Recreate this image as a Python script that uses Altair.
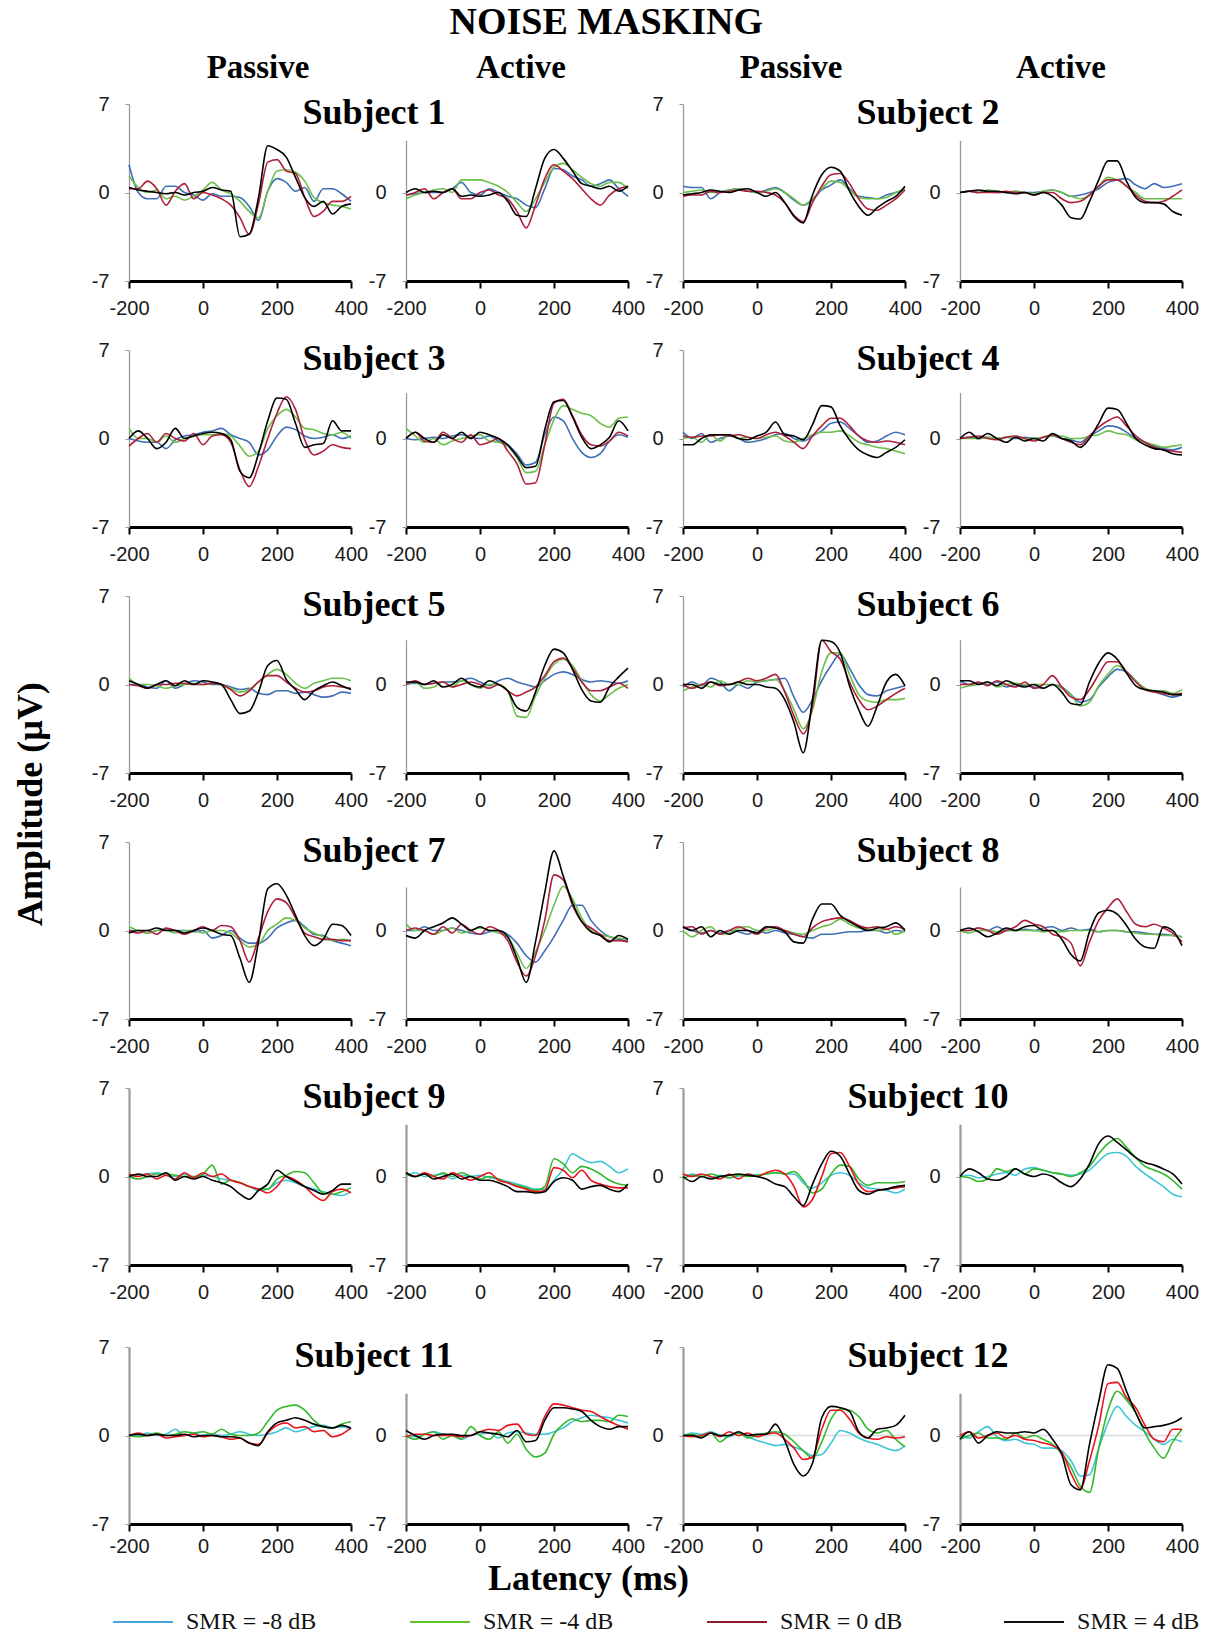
import altair as alt
import pandas as pd

# ---------------- data ----------------
T = list(range(-200, 401, 25))  # latency (ms)
SERIES = ["SMR = -8 dB", "SMR = -4 dB", "SMR = 0 dB", "SMR = 4 dB"]
CONDITIONS = ["Passive", "Active"]
SUBJECTS = ["Subject %d" % i for i in range(1, 13)]

PAL_A = ["#3f6fb6", "#6cc04a", "#b01f3a", "#000000"]   # subjects 1-8
PAL_B = ["#3ec5d6", "#34b82c", "#e8141c", "#000000"]   # subjects 9-12
LEG_COLORS = ["#48a6d9", "#5ec42c", "#8d1d2e", "#111111"]
BOX_BOTTOM = [4.1, 3.6, 3.5, 3.4, 4.1, 3.3]
HEADER_DX = [18, 4, -3, -10]

# each panel: [SMR -8, SMR -4, SMR 0, SMR 4] amplitudes (uV) at T
S1_PASSIVE = [
    [2.2, 0.0, -0.5, -0.5, 0.5, 0.5, 0.0, -0.2, -0.6, -0.1, -0.3, -0.3, -0.4, -1.1, -2.2, 0.1, 1.1, 0.8, 0.1, 0.4, -0.7, 0.3, 0.3, -0.1, -0.7],
    [1.3, 0.4, 0.0, 0.2, -0.5, -0.3, -0.6, -0.3, 0.2, 0.8, 0.2, -0.1, -0.7, -1.5, -2.0, 0.1, 1.7, 1.8, 1.6, 0.9, -0.4, -0.8, -1.0, -1.1, -1.3],
    [0.3, 0.3, 0.9, 0.3, -1.0, 0.1, 0.7, -0.5, 0.0, -0.2, -0.5, -1.0, -2.0, -3.3, -0.9, 2.4, 2.6, 1.7, 1.5, -0.4, -1.9, -1.5, -0.7, -0.7, -0.3],
    [0.4, 0.2, 0.1, 0.0, -0.1, 0.0, -0.2, 0.0, 0.1, 0.4, 0.2, 0.1, -3.5, -3.3, -0.4, 3.7, 3.4, 2.8, 1.2, -0.4, -1.1, -0.7, -1.7, -1.1, -0.9],
]
S1_ACTIVE = [
    [-0.2, -0.1, 0.0, 0.0, 0.0, 0.3, 0.8, 0.0, -0.2, 0.3, 0.0, -0.3, -0.5, -1.0, -1.2, 0.3, 1.9, 1.8, 1.3, 1.0, 0.5, 0.7, 1.0, 0.3, -0.3],
    [-0.5, -0.2, 0.0, 0.2, 0.3, 0.0, 1.0, 1.0, 1.0, 0.8, 0.5, 0.0, -0.8, -1.5, -0.5, 0.8, 2.0, 2.3, 1.8, 1.2, 0.7, 0.5, 0.8, 0.8, 0.3],
    [-0.2, 0.0, 0.3, -0.5, 0.0, 0.3, -0.5, -0.5, 0.0, 0.2, -0.2, -0.5, -1.5, -2.8, -1.0, 1.1, 2.2, 1.7, 1.1, 0.3, -0.5, -1.0, -0.2, 0.3, 0.5],
    [0.0, 0.3, 0.0, 0.1, 0.0, 0.3, -0.3, -0.2, -0.3, -0.2, 0.0, -0.7, -1.8, -1.9, 0.3, 2.7, 3.4, 2.7, 1.7, 0.7, 0.5, 0.3, 0.5, 0.1, 0.5],
]
S2_PASSIVE = [
    [0.5, 0.4, 0.4, -0.5, 0.0, 0.2, 0.3, 0.1, 0.0, 0.2, 0.4, 0.0, -0.6, -1.0, -0.6, 0.2, 0.6, 1.0, 0.3, -0.3, -0.4, -0.5, -0.2, 0.0, 0.2],
    [0.0, 0.1, 0.2, 0.0, 0.0, 0.2, 0.3, 0.1, 0.0, 0.1, 0.3, 0.0, -0.5, -1.0, -0.5, 0.3, 0.9, 0.8, 0.2, -0.4, -0.5, -0.5, -0.4, 0.0, 0.3],
    [-0.3, -0.2, -0.2, 0.1, 0.0, 0.1, 0.2, 0.1, 0.1, 0.0, -0.2, -0.8, -1.8, -2.3, -0.8, 0.5, 1.4, 1.5, 0.7, -0.5, -1.3, -1.4, -1.0, -0.5, 0.2],
    [-0.2, -0.1, 0.0, 0.2, 0.1, 0.0, 0.2, 0.3, 0.0, -0.3, 0.0, -0.8, -1.9, -2.4, -0.2, 1.4, 2.0, 1.7, 0.1, -1.1, -1.8, -1.2, -0.7, -0.3, 0.5],
]
S2_ACTIVE = [
    [0.0, 0.1, 0.0, 0.1, 0.0, 0.0, 0.1, 0.0, 0.0, 0.1, 0.2, 0.0, -0.3, -0.2, 0.0, 0.3, 0.8, 1.0, 1.1, 0.6, 0.3, 0.7, 0.4, 0.5, 0.7],
    [0.0, 0.1, 0.0, 0.2, 0.1, 0.0, 0.1, 0.0, -0.1, 0.1, 0.2, 0.0, -0.3, -0.5, -0.2, 0.5, 1.2, 1.0, 0.5, 0.0, -0.5, -0.5, -0.5, -0.5, -0.5],
    [0.0, 0.1, 0.0, 0.0, 0.0, 0.1, 0.0, 0.0, -0.2, 0.0, 0.0, -0.5, -0.8, -0.7, -0.2, 0.5, 1.0, 1.0, 0.5, -0.2, -0.7, -0.8, -0.7, -0.3, 0.2],
    [0.0, 0.1, 0.2, 0.1, 0.1, 0.0, -0.1, 0.0, -0.2, 0.0, -0.3, -1.0, -2.0, -2.1, -0.7, 1.0, 2.5, 2.5, 0.9, -0.4, -0.8, -0.8, -0.9, -1.5, -1.8],
]
S3_PASSIVE = [
    [0.0, -0.2, -0.3, -0.3, -0.8, -0.1, 0.2, 0.3, 0.5, 0.6, 0.8, 0.3, 0.0, -0.3, -1.3, -0.9, 0.2, 0.9, 0.7, 0.2, 0.0, 0.1, 0.3, 0.0, 0.2],
    [0.8, 0.0, 0.0, -0.3, 0.2, -0.3, 0.0, 0.2, 0.3, 0.3, 0.4, 0.2, -0.6, -1.4, -1.0, 0.8, 1.8, 2.3, 1.7, 0.8, 0.7, 0.4, 0.3, 0.5, 0.0],
    [-0.6, 0.0, 0.4, -0.3, 0.4, 0.0, -0.2, 0.4, -0.5, 0.2, 0.3, -0.3, -2.5, -3.8, -2.2, 0.0, 2.0, 3.3, 2.3, -0.1, -1.3, -1.0, -0.5, -0.7, -0.8],
    [0.0, 0.6, 0.0, -0.8, -0.3, 0.8, 0.0, 0.2, 0.4, 0.5, 0.4, -0.1, -2.6, -3.1, -1.2, 1.4, 3.2, 3.1, 1.2, -0.7, -0.5, -0.4, 1.4, 0.6, 0.6],
]
S3_ACTIVE = [
    [0.0, -0.1, 0.0, 0.1, 0.0, 0.2, 0.3, 0.1, 0.0, 0.2, -0.2, -0.5, -1.2, -2.1, -1.9, 0.3, 1.7, 1.4, 0.0, -1.1, -1.5, -1.2, -0.2, 0.3, 0.1],
    [0.8, 0.2, -0.3, 0.0, -0.5, -0.2, 0.0, 0.2, 0.3, -0.2, -0.3, -0.6, -1.5, -2.7, -2.6, -0.5, 1.5, 2.6, 2.3, 2.0, 1.8, 1.2, 0.9, 1.6, 1.7],
    [0.0, 0.5, -0.2, -0.3, 0.5, 0.0, -0.3, 0.3, -0.5, -0.3, 0.0, -1.0, -2.0, -3.6, -3.5, -0.5, 2.8, 3.1, 1.8, 0.3, -0.5, -0.6, -0.2, 0.5, 0.2],
    [0.0, 0.5, 0.0, -0.3, 0.3, 0.0, 0.5, 0.0, 0.5, 0.3, 0.0, -0.5, -1.4, -2.3, -2.2, 0.7, 2.9, 3.0, 1.7, 0.1, -0.8, -0.5, 0.1, 1.4, 0.6],
]
S4_PASSIVE = [
    [0.5, 0.0, 0.4, -0.3, 0.0, 0.2, 0.0, -0.3, -0.2, 0.0, 0.3, 0.4, 0.0, -0.2, 0.2, 0.6, 1.2, 1.3, 0.8, 0.2, -0.3, -0.2, 0.2, 0.5, 0.3],
    [0.0, 0.1, -0.3, 0.3, -0.2, 0.3, 0.0, 0.1, 0.0, 0.1, 0.2, -0.2, -0.3, 0.0, 0.3, 0.5, 0.5, 0.6, 0.2, -0.3, -0.5, -0.7, -0.8, -1.0, -1.2],
    [0.2, 0.1, 0.2, 0.2, 0.3, 0.2, 0.3, 0.1, 0.0, 0.3, 0.5, 0.2, -0.3, -0.8, 0.2, 1.0, 1.6, 1.6, 1.0, 0.2, -0.2, -0.3, -0.2, -0.3, -0.5],
    [-0.5, -0.5, 0.0, 0.3, 0.3, 0.3, 0.0, -0.1, 0.2, 0.5, 1.3, 0.3, 0.2, -0.1, 1.1, 2.6, 2.5, 1.0, -0.1, -0.9, -1.3, -1.5, -1.1, -0.7, -0.1],
]
S4_ACTIVE = [
    [0.0, 0.1, 0.0, 0.1, 0.0, 0.1, 0.0, 0.1, 0.0, 0.1, 0.2, 0.0, -0.1, -0.3, 0.2, 0.6, 1.0, 0.9, 0.5, 0.0, -0.3, -0.6, -0.8, -0.9, -0.7],
    [0.0, 0.0, 0.0, 0.1, 0.0, 0.1, 0.1, 0.0, 0.0, 0.1, 0.2, 0.2, 0.0, 0.0, 0.2, 0.3, 0.6, 0.4, 0.3, -0.1, -0.3, -0.5, -0.7, -0.6, -0.5],
    [0.0, 0.1, 0.2, 0.0, -0.1, 0.1, 0.2, 0.0, -0.2, 0.1, 0.3, 0.0, -0.3, -0.5, 0.2, 0.9, 1.4, 1.7, 1.0, 0.2, -0.3, -0.7, -0.9, -1.0, -1.1],
    [0.0, 0.5, 0.0, 0.4, 0.0, -0.3, 0.1, -0.2, 0.0, -0.2, 0.4, 0.0, -0.2, -0.7, 0.0, 1.2, 2.4, 2.3, 1.2, 0.0, -0.5, -0.8, -0.9, -1.2, -1.3],
]
S5_PASSIVE = [
    [0.0, 0.0, -0.2, -0.3, 0.3, -0.3, 0.0, 0.3, 0.2, 0.0, 0.0, -0.2, -0.4, -0.3, -0.7, -0.8, -0.5, -0.5, -0.7, -0.6, -0.8, -1.0, -0.9, -0.6, -0.7],
    [0.5, 0.0, 0.0, -0.1, -0.3, -0.1, 0.0, 0.1, 0.0, 0.1, 0.0, -0.3, -0.6, -0.4, 0.2, 0.8, 1.2, 0.8, 0.1, -0.3, 0.1, 0.3, 0.5, 0.5, 0.3],
    [0.0, -0.1, -0.3, 0.0, 0.0, 0.1, 0.1, 0.0, 0.0, 0.1, 0.0, -0.4, -0.9, -0.5, 0.2, 0.7, 0.7, 0.2, -0.3, -0.6, -0.5, -0.2, -0.1, -0.2, -0.3],
    [0.3, 0.0, -0.3, 0.0, 0.3, -0.1, 0.3, 0.0, 0.3, 0.2, 0.0, -1.2, -2.3, -2.1, -0.6, 1.5, 1.9, 0.4, -0.4, -1.2, -0.5, -0.1, 0.2, -0.1, -0.4],
]
S5_ACTIVE = [
    [0.0, 0.1, 0.0, 0.1, 0.2, 0.2, 0.3, 0.5, 0.2, -0.1, 0.3, 0.5, 0.2, 0.0, -0.2, 0.3, 0.8, 1.0, 0.8, 0.4, 0.2, 0.3, 0.2, 0.1, 0.3],
    [0.0, 0.2, -0.3, -0.2, 0.2, -0.2, 0.3, 0.0, -0.3, 0.0, 0.0, -0.5, -2.5, -2.6, -0.9, 0.5, 1.6, 2.0, 1.5, 0.3, -0.8, -1.3, -0.8, -0.3, 0.0],
    [0.0, 0.3, 0.0, 0.1, 0.2, -0.2, 0.0, 0.2, 0.0, -0.3, 0.0, -0.5, -0.9, -0.6, -0.2, 0.7, 1.8, 2.1, 1.3, 0.2, -0.5, -0.5, -0.2, 0.1, -0.3],
    [0.2, 0.2, 0.0, 0.3, -0.2, 0.0, 0.5, 0.0, -0.2, 0.3, 0.0, -0.5, -1.8, -2.1, -0.6, 1.5, 2.8, 2.5, 1.2, -0.4, -1.3, -1.4, -0.2, 0.6, 1.3],
]
S6_PASSIVE = [
    [-0.2, 0.2, -0.1, 0.5, 0.2, -0.5, 0.0, -0.3, 0.2, 0.3, 0.4, 0.5, -1.0, -2.2, -1.2, 0.3, 1.5, 2.4, 1.3, 0.0, -0.8, -0.9, -0.5, -0.3, -0.1],
    [-0.5, -0.2, 0.0, -0.2, 0.3, 0.0, 0.0, 0.3, 0.2, 0.3, 0.4, -0.5, -2.0, -3.5, -2.0, 1.0, 2.5, 2.5, 0.8, -0.8, -1.3, -1.4, -1.2, -1.2, -1.1],
    [0.0, -0.3, 0.0, 0.2, -0.1, 0.0, 0.2, 0.5, 0.3, 0.5, 0.8, -0.6, -2.5, -3.9, -1.7, 3.5, 2.6, 2.0, 0.2, -1.2, -2.0, -1.7, -1.2, -0.7, -0.3],
    [0.0, 0.0, -0.3, 0.2, 0.0, 0.0, 0.2, 0.0, 0.0, -0.2, -0.3, -1.2, -3.0, -5.4, -1.2, 3.5, 3.4, 2.5, -0.1, -2.0, -3.3, -1.7, 0.2, 0.8, -0.1],
]
S6_ACTIVE = [
    [0.3, 0.0, 0.1, 0.0, 0.2, -0.2, 0.0, -0.1, -0.2, -0.3, 0.0, -0.2, -0.8, -1.4, -1.2, -0.2, 0.6, 1.2, 1.0, 0.3, -0.4, -0.6, -0.8, -1.0, -0.8],
    [-0.3, -0.1, 0.0, 0.2, -0.2, 0.0, 0.1, 0.0, 0.0, 0.0, 0.0, -0.3, -0.8, -1.7, -1.4, -0.1, 0.8, 1.5, 1.0, 0.3, -0.3, -0.5, -0.5, -0.7, -0.4],
    [0.0, 0.0, 0.2, -0.1, 0.3, 0.0, -0.2, 0.2, -0.3, 0.0, 0.7, -0.2, -1.0, -1.2, -0.4, 0.8, 1.8, 1.8, 1.0, 0.2, -0.4, -0.6, -0.7, -0.8, -0.7],
    [0.3, 0.3, 0.0, 0.2, -0.1, 0.3, 0.0, -0.2, 0.0, -0.3, 0.0, -0.6, -1.5, -1.6, 0.2, 1.7, 2.5, 2.0, 0.9, -0.1, -0.4, -0.5, -0.6, -0.8, -0.8],
]
S7_PASSIVE = [
    [0.0, 0.0, -0.2, 0.0, 0.1, 0.0, 0.0, -0.1, 0.0, -0.6, -0.4, 0.0, -0.6, -1.0, -1.0, -0.6, 0.2, 0.6, 0.8, 0.3, -0.3, -0.4, -0.8, -1.0, -1.2],
    [0.3, 0.0, -0.2, 0.0, 0.0, -0.2, 0.0, 0.0, -0.2, 0.0, 0.0, -0.2, -0.8, -1.3, -1.1, 0.0, 0.5, 1.0, 0.8, 0.2, -0.2, -0.5, -0.8, -0.7, -0.8],
    [0.0, -0.2, 0.0, -0.3, 0.2, 0.0, -0.3, 0.0, 0.3, 0.0, 0.4, 0.3, -0.8, -2.5, -0.6, 1.5, 2.5, 2.2, 1.0, -0.2, -0.5, -0.7, -0.7, -0.8, -0.8],
    [-0.2, 0.0, 0.0, 0.2, 0.0, 0.0, -0.2, 0.0, 0.2, 0.0, -0.3, -0.4, -2.2, -4.1, -0.9, 3.3, 3.7, 2.8, 1.2, -0.4, -1.2, -0.7, 0.5, 0.4, -0.4],
]
S7_ACTIVE = [
    [0.0, 0.0, 0.3, 0.0, 0.0, 0.2, 0.0, -0.2, -0.3, -0.1, 0.0, -0.3, -1.0, -2.0, -2.5, -1.6, -0.5, 0.8, 2.0, 2.0, 0.8, 0.0, -0.5, -0.7, -0.8],
    [0.5, 0.0, 0.0, -0.3, 0.0, 0.2, -0.2, 0.0, 0.2, 0.0, -0.2, -0.5, -1.8, -3.0, -1.7, 0.0, 2.0, 3.5, 2.5, 1.0, 0.0, -0.3, -0.5, -0.6, -0.7],
    [0.0, 0.2, 0.0, -0.3, 0.3, -0.2, 0.5, 0.0, -0.3, 0.3, 0.0, -0.8, -2.5, -3.6, -2.0, 0.8, 4.4, 4.0, 2.0, 0.7, 0.2, -0.3, -0.8, -0.8, -0.9],
    [-0.4, -0.6, 0.0, 0.3, 0.6, 1.0, 0.5, 0.0, 0.3, 0.0, 0.0, -0.5, -2.2, -4.1, -0.9, 3.0, 6.3, 4.3, 2.2, 0.7, -0.1, -0.4, -0.9, -0.4, -0.7],
]
S8_PASSIVE = [
    [0.3, 0.0, -0.2, 0.0, -0.2, 0.0, -0.1, -0.3, 0.0, -0.2, 0.0, -0.2, -0.3, -0.5, -0.6, -0.3, -0.3, -0.2, -0.1, -0.1, 0.0, 0.0, -0.2, 0.0, -0.1],
    [0.0, -0.5, 0.0, 0.3, -0.3, -0.2, 0.2, 0.3, 0.0, 0.0, 0.2, 0.0, -0.2, -0.3, 0.0, 0.3, 0.5, 0.9, 0.5, 0.2, 0.1, 0.0, 0.1, -0.3, 0.0],
    [0.2, 0.3, -0.3, 0.0, -0.3, 0.0, 0.3, 0.0, -0.3, 0.2, 0.3, 0.0, -0.3, -0.5, 0.2, 0.7, 0.9, 1.0, 0.8, 0.4, 0.2, 0.3, 0.1, 0.3, 0.1],
    [0.3, 0.0, 0.3, -0.5, 0.0, -0.3, 0.0, 0.0, -0.2, 0.3, 0.2, -0.1, -0.9, -1.0, 0.9, 2.1, 2.1, 1.2, 0.7, 0.3, 0.0, 0.2, 0.3, 0.6, 0.0],
]
S8_ACTIVE = [
    [0.0, 0.0, 0.2, 0.0, 0.3, 0.0, 0.0, 0.1, 0.0, 0.2, 0.3, 0.0, 0.2, 0.0, 0.1, -0.1, 0.0, 0.0, -0.1, -0.1, -0.2, -0.3, -0.3, -0.4, -0.5],
    [0.0, -0.2, 0.0, 0.0, -0.1, 0.0, 0.0, 0.0, 0.0, -0.1, 0.0, -0.1, 0.0, 0.0, 0.0, -0.1, 0.0, 0.0, -0.1, -0.2, -0.3, -0.3, -0.4, -0.4, -0.5],
    [0.0, 0.0, 0.2, 0.0, -0.3, 0.0, 0.3, 0.8, 0.5, 0.3, -0.3, -0.5, -1.0, -2.8, -0.9, 0.8, 1.8, 2.5, 1.5, 0.5, 0.3, 0.5, 0.2, -0.2, -0.9],
    [0.0, 0.2, -0.1, -0.5, -0.2, 0.2, 0.0, 0.3, 0.4, 0.0, 0.0, -0.7, -1.9, -2.4, -0.1, 1.4, 1.6, 1.3, 0.4, -0.7, -1.3, -1.4, 0.3, 0.0, -1.2],
]
S9_PASSIVE = [
    [0.0, 0.1, 0.2, 0.3, 0.1, 0.0, 0.2, -0.1, 0.1, 0.0, -0.2, -0.3, -0.5, -0.8, -1.1, -1.0, -0.5, -0.3, -0.5, -0.8, -1.0, -1.2, -1.4, -1.5, -1.2],
    [0.0, -0.2, 0.0, 0.2, 0.2, 0.1, 0.0, 0.0, 0.2, 0.9, -0.6, -0.3, -0.5, -0.8, -1.0, -1.0, -0.2, 0.1, 0.4, 0.3, -0.5, -1.3, -1.4, -1.2, -0.9],
    [0.2, 0.0, 0.2, -0.2, 0.1, -0.2, 0.3, -0.1, 0.3, 0.0, 0.2, -0.3, -0.5, -0.8, -1.0, -1.3, -0.8, 0.0, -0.3, -0.8, -1.5, -1.9, -1.2, -1.0, -1.3],
    [0.0, 0.2, 0.0, 0.0, 0.3, -0.3, 0.0, -0.2, 0.0, -0.3, -0.5, -0.8, -1.4, -1.8, -1.1, -0.6, 0.5, 0.0, -0.4, -0.8, -1.1, -1.4, -1.1, -0.6, -0.6],
]
S9_ACTIVE = [
    [0.0, 0.3, 0.0, 0.1, 0.2, -0.2, 0.1, 0.0, 0.1, -0.1, -0.2, -0.4, -0.6, -0.8, -1.0, -1.0, -0.3, 0.6, 1.8, 1.4, 1.1, 1.2, 0.8, 0.3, 0.6],
    [0.2, 0.0, 0.2, 0.0, 0.3, 0.0, 0.3, 0.0, -0.2, 0.0, -0.2, -0.5, -0.7, -0.9, -1.1, -0.8, 1.4, 1.0, 0.3, 0.8, 0.6, 0.2, -0.3, -0.6, -0.7],
    [0.3, 0.0, 0.3, 0.0, -0.2, 0.3, 0.0, -0.3, 0.0, 0.3, -0.3, -0.5, -0.8, -1.0, -1.2, -1.1, 0.7, 0.5, -0.1, 0.5, -0.3, -0.6, -0.8, -0.9, -0.9],
    [0.3, 0.0, 0.2, -0.2, 0.0, 0.2, -0.2, 0.0, -0.3, -0.3, -0.5, -0.8, -1.2, -1.2, -1.3, -1.2, -0.4, -0.1, -0.3, -1.0, -0.8, -0.7, -1.0, -1.2, -0.6],
]
S10_PASSIVE = [
    [0.0, 0.2, 0.0, -0.1, 0.1, -0.1, 0.0, 0.2, 0.1, 0.2, 0.3, 0.2, 0.2, -0.5, -0.9, -0.5, 0.1, 0.3, 0.1, -0.5, -0.9, -1.0, -1.1, -1.3, -1.0],
    [-0.2, 0.1, 0.0, 0.2, 0.0, -0.1, 0.1, 0.0, 0.1, 0.2, 0.3, 0.2, 0.4, -0.3, -1.3, -1.0, 0.2, 0.9, 0.8, -0.2, -0.7, -0.5, -0.5, -0.5, -0.4],
    [0.2, 0.0, 0.2, 0.0, -0.2, 0.2, -0.2, 0.2, 0.0, 0.3, 0.5, 0.2, -0.8, -2.4, -1.8, 0.0, 1.8, 1.9, 0.8, -0.6, -1.2, -1.1, -1.0, -0.9, -0.8],
    [0.0, -0.4, 0.0, -0.2, 0.0, 0.1, 0.2, 0.1, 0.0, -0.2, -0.6, -0.8, -1.6, -2.3, -0.6, 1.0, 2.0, 1.6, 0.2, -1.1, -1.4, -1.1, -1.0, -0.8, -0.7],
]
S10_ACTIVE = [
    [0.0, 0.1, -0.1, 0.0, 0.2, 0.3, 0.1, 0.6, 0.7, 0.5, 0.3, 0.2, 0.1, 0.2, 0.5, 1.2, 1.8, 1.9, 1.6, 0.8, 0.2, -0.3, -0.8, -1.4, -1.6],
    [0.0, -0.1, -0.4, -0.2, 0.6, 0.4, 0.6, 0.2, 0.6, 0.5, 0.3, 0.2, 0.0, 0.3, 0.8, 1.8, 2.6, 3.0, 2.3, 1.5, 0.8, 0.5, 0.2, -0.3, -1.0],
    None,
    [0.0, 0.6, 0.3, -0.2, -0.3, 0.0, 0.6, 0.2, 0.0, 0.2, 0.0, -0.5, -0.8, -0.2, 1.0, 2.6, 3.2, 2.7, 2.1, 1.5, 1.1, 0.9, 0.6, 0.2, -0.6],
]
S11_PASSIVE = [
    [0.1, 0.0, 0.2, 0.0, 0.1, 0.5, 0.0, 0.2, 0.0, 0.1, 0.0, 0.1, 0.3, 0.1, 0.0, 0.1, 0.3, 0.6, 0.3, 0.5, 0.7, 0.8, 0.6, 0.7, 0.5],
    [0.0, -0.1, 0.0, 0.2, 0.0, 0.1, 0.3, 0.2, 0.3, 0.1, 0.5, 0.1, 0.0, 0.0, 0.2, 1.1, 2.0, 2.3, 2.4, 2.0, 1.2, 0.7, 0.6, 0.9, 1.1],
    [0.0, 0.2, 0.0, 0.1, -0.2, -0.1, 0.0, 0.1, -0.1, 0.0, -0.1, -0.3, -0.2, -0.6, -0.7, 0.2, 0.8, 1.0, 0.6, 0.7, 0.3, 0.4, -0.1, 0.1, 0.6],
    [0.0, 0.1, 0.0, 0.1, 0.0, 0.0, 0.1, -0.1, 0.0, 0.0, -0.1, -0.1, -0.2, -0.6, -0.8, 0.3, 1.0, 1.2, 1.4, 1.2, 0.9, 0.7, 0.6, 0.8, 0.6],
]
S11_ACTIVE = [
    [0.0, -0.1, 0.1, 0.3, 0.1, 0.0, -0.3, 0.0, 0.1, 0.2, -0.2, 0.2, 0.3, 0.2, 0.1, 0.1, 0.3, 0.6, 1.1, 1.4, 1.6, 1.5, 1.4, 1.2, 1.0],
    [0.0, -0.3, 0.1, 0.3, -0.3, 0.0, -0.3, 0.7, 0.0, -0.3, 0.3, -0.6, 0.1, -1.1, -1.7, -1.4, 0.1, 0.9, 1.3, 1.1, 1.2, 1.2, 1.1, 1.6, 1.5],
    [-0.1, 0.1, 0.1, 0.0, 0.0, 0.0, -0.1, 0.0, 0.3, 0.5, 0.4, 0.8, 0.9, 0.1, 0.0, 1.5, 2.5, 2.4, 2.2, 2.0, 1.9, 1.5, 1.1, 0.8, 0.5],
    [0.4, 0.0, -0.3, 0.0, 0.1, 0.1, 0.0, 0.0, 0.3, 0.2, 0.1, -0.1, 0.4, -0.5, -0.4, 1.2, 2.2, 2.2, 2.1, 1.9, 1.2, 0.7, 0.5, 0.7, 0.7],
]
S12_PASSIVE = [
    [0.0, 0.2, 0.1, 0.3, 0.0, -0.1, 0.2, -0.1, -0.4, -0.6, -0.8, -0.7, -0.9, -1.2, -1.6, -1.5, -0.6, 0.4, 0.2, -0.2, -0.5, -0.7, -1.0, -1.2, -0.8],
    [0.0, 0.1, -0.1, 0.2, -0.5, 0.0, 0.2, -0.2, 0.0, 0.2, 0.3, 0.1, -0.5, -1.2, -1.8, -0.5, 1.3, 2.1, 2.0, 1.5, 0.5, 0.2, 0.4, -0.3, -0.9],
    [0.0, -0.1, 0.0, 0.2, -0.1, 0.3, 0.0, 0.2, -0.1, 0.1, 0.2, -0.3, -1.0, -1.9, -1.7, 0.5, 2.0, 2.0, 1.3, 0.2, -0.2, -0.3, -0.1, -0.2, -0.1],
    [0.0, 0.0, -0.2, 0.2, 0.0, 0.0, 0.3, 0.0, 0.1, 0.1, 0.9, -0.4, -2.3, -3.2, -2.2, 1.4, 2.3, 2.2, 1.9, 0.3, -0.2, 0.5, 0.6, 0.8, 1.6],
]
S12_ACTIVE = [
    [0.0, -0.2, 0.3, 0.7, -0.1, -0.4, -0.3, -0.6, -0.7, -1.0, -1.0, -1.2, -2.0, -3.2, -3.1, -1.0, 1.0, 2.3, 1.5, 0.8, 0.3, -0.3, -0.7, -0.3, -0.5],
    [-0.3, 0.0, 0.2, -0.2, -0.2, -0.3, 0.2, -0.2, 0.0, -0.3, -0.7, -1.4, -2.5, -4.0, -4.5, -1.0, 2.0, 3.5, 2.8, 1.8, 0.2, -1.0, -1.8, -0.5, 0.5],
    [0.0, 0.3, -0.2, 0.0, 0.2, -0.2, 0.0, -0.3, -0.4, -0.6, -0.8, -1.3, -3.0, -4.2, -2.0, 0.8, 4.1, 4.2, 3.0, 2.2, 0.8, -0.3, -0.5, 0.5, 0.5],
    [-0.3, 0.3, -0.6, 0.0, 0.3, 0.2, 0.2, 0.3, 0.2, 0.5, -0.3, -1.5, -3.9, -4.3, -0.7, 2.7, 5.6, 5.3, 3.5, 1.8, 0.6, 0.7, 0.8, 1.0, 1.4],
]

PANEL_ROWS = [
    [S1_PASSIVE, S1_ACTIVE, S2_PASSIVE, S2_ACTIVE],
    [S3_PASSIVE, S3_ACTIVE, S4_PASSIVE, S4_ACTIVE],
    [S5_PASSIVE, S5_ACTIVE, S6_PASSIVE, S6_ACTIVE],
    [S7_PASSIVE, S7_ACTIVE, S8_PASSIVE, S8_ACTIVE],
    [S9_PASSIVE, S9_ACTIVE, S10_PASSIVE, S10_ACTIVE],
    [S11_PASSIVE, S11_ACTIVE, S12_PASSIVE, S12_ACTIVE],
]

# ---------------- layout / style ----------------
W, H = 222, 177
HSPACE = 55
SERIF = "Liberation Serif"
SANS = "Liberation Sans"


def panel(vals, row, col):
    recs = []
    for si, arr in enumerate(vals):
        if arr is None:
            continue
        for t, v in zip(T, arr):
            recs.append({"t": t, "v": v, "series": SERIES[si]})
    df = pd.DataFrame(recs)
    pal = PAL_A if row < 4 else PAL_B
    active = col % 2 == 1
    xs = alt.Scale(domain=[-200, 400], nice=False, zero=False)
    ys = alt.Scale(domain=[-7, 7], nice=False, zero=False)
    xaxis = alt.Axis(values=[-200, 0, 200, 400], title=None, grid=False,
                     domainColor="#000000", domainWidth=3.2, tickColor="#000000",
                     tickWidth=2, tickSize=7, labelFont=SANS, labelFontSize=20,
                     labelColor="#1a1a1a", labelPadding=10 if row < 5 else 5,
                     labelFlush=False, labelOverlap=False,
                     labelExpr="toString(datum.value)")
    ylab = "datum.value == 7 ? '' : toString(datum.value)" if active else "toString(datum.value)"
    yaxis = alt.Axis(values=[-7, 0, 7], title=None, grid=False,
                     domainColor="#9a9a9a", domainWidth=1.3 if row < 4 else 2.2,
                     tickColor="#9a9a9a", tickSize=4, labelFont=SANS,
                     labelFontSize=20, labelColor="#1a1a1a", labelPadding=16,
                     labelExpr=ylab)
    lines = alt.Chart(df).mark_line(interpolate="monotone").encode(
        x=alt.X("t:Q", scale=xs, axis=xaxis),
        y=alt.Y("v:Q", scale=ys, axis=yaxis),
        color=alt.Color("series:N", scale=alt.Scale(domain=SERIES, range=pal), legend=None),
        strokeWidth=alt.StrokeWidth("series:N", scale=alt.Scale(domain=SERIES, range=[1.6, 1.6, 1.6, 2.2]), legend=None),
    )
    layers = []
    if row == 5 and col >= 2:
        layers.append(alt.Chart(pd.DataFrame({"z": [0]})).mark_rule(color="#d9d9d9", strokeWidth=1.5)
                      .encode(y=alt.datum(0)))
    layers.append(lines)
    if active:
        subj = SUBJECTS[row * 2 + col // 2]
        box = alt.Chart(pd.DataFrame({"k": [0]})).mark_rect(color="white").encode(
            x=alt.value(-118), x2=alt.value(66), y=alt.datum(9), y2=alt.datum(BOX_BOTTOM[row]))
        txt = alt.Chart(pd.DataFrame({"label": [subj]})).mark_text(
            font=SERIF, fontSize=36, fontWeight="bold", align="center", baseline="alphabetic", color="black"
        ).encode(x=alt.value(-32), y=alt.value(20), text="label:N")
        layers += [box, txt]
    if row == 0:
        hdr = alt.Chart(pd.DataFrame({"label": [CONDITIONS[col % 2]]})).mark_text(
            font=SERIF, fontSize=33, fontWeight="bold", align="center", baseline="alphabetic", color="black"
        ).encode(x=alt.value(W / 2 + HEADER_DX[col]), y=alt.value(-26), text="label:N")
        layers.append(hdr)
    return alt.layer(*layers).properties(width=W, height=H)


rows = []
for r in range(6):
    ps = [panel(PANEL_ROWS[r][c], r, c) for c in range(4)]
    rows.append(alt.hconcat(*ps, spacing=HSPACE, bounds="flush")
                .resolve_scale(color="independent", strokeWidth="independent"))

inner = alt.vconcat(*rows[:5], spacing=6).resolve_scale(color="independent", strokeWidth="independent")
rows_block = alt.vconcat(
    inner, rows[5], spacing=19,
    title=alt.Title("Amplitude (µV)", orient="left", anchor="middle", font=SERIF,
                    fontSize=36, fontWeight="bold", color="black", offset=41),
).resolve_scale(color="independent", strokeWidth="independent")

leg_df = pd.DataFrame({"series": SERIES})
leg_x = alt.X("series:N", sort=SERIES, axis=None,
              scale=alt.Scale(type="point", domain=SERIES, padding=0.047))
leg_sym = alt.Chart(leg_df).mark_point(shape="stroke", size=3600, strokeWidth=2, filled=False, opacity=1).encode(
    x=leg_x,
    color=alt.Color("series:N", scale=alt.Scale(domain=SERIES, range=LEG_COLORS), legend=None),
)
leg_txt = alt.Chart(leg_df).mark_text(align="left", baseline="middle", dx=43, font=SERIF,
                                      fontSize=24, color="#111111").encode(x=leg_x, text="series:N")
legend_chart = alt.layer(leg_sym, leg_txt).properties(
    width=919, height=14,
    title=alt.Title("Latency (ms)", font=SERIF, fontSize=36, fontWeight="bold", color="black",
                    anchor="middle", offset=12),
)

chart = alt.vconcat(
    rows_block, legend_chart, spacing=5,
    title=alt.Title("NOISE MASKING", font=SERIF, fontSize=38, fontWeight="bold", color="black",
                    anchor="middle", offset=10),
).resolve_scale(color="independent", strokeWidth="independent").configure_view(stroke=None).properties(
    padding={"left": 13, "top": 4, "right": 0, "bottom": 0}, background="white"
)

chart.save("out.html", embed_options={"renderer": "svg", "actions": False})
